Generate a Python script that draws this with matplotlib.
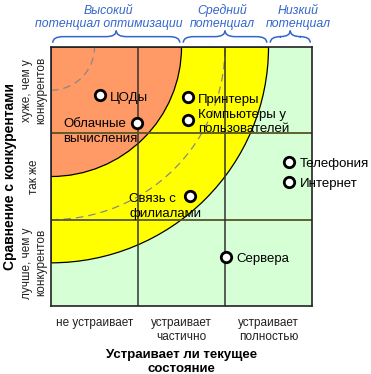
import matplotlib
matplotlib.use('Agg')
import matplotlib.pyplot as plt
from matplotlib.patches import Wedge, Rectangle, Arc, PathPatch
from matplotlib.path import Path

plt.rcParams['font.family'] = ['Liberation Sans', 'DejaVu Sans']

# данные
names = ['ЦОДы', 'Облачные\nвычисления', 'Принтеры', 'Компьютеры у\nпользователей',
         'Связь с\nфилиалами', 'Телефония', 'Интернет', 'Сервера']
xs = [0.56, 0.99, 1.57, 1.57, 1.60, 2.74, 2.74, 2.01]
ys = [2.44, 2.12, 2.42, 2.16, 1.27, 1.67, 1.44, 0.57]

x_ticks = ['не устраивает', 'устраивает\nчастично', 'устраивает\nполностью']
y_ticks = ['лучше, чем у\nконкурентов', 'так же', 'хуже, чем у\nконкурентов']
zones = ['Высокий\nпотенциал оптимизации', 'Средний\nпотенциал', 'Низкий\nпотенциал']
zone_bounds = [0, 1.5, 2.5, 3.0]
radii = [1.5, 2.5]          # границы зон
dashed_radii = [0.5, 2.0]

# где ставить подписи: (x, y) текста, None - справа от точки
label_at = [None, (0.14, 2.02), None, None, (0.90, 1.15), None, None, None]
zone_text_x = [0.66, 1.97, 2.84]

fig = plt.figure(figsize=(3.71, 3.74), dpi=100)
ax = fig.add_axes([0.1375, 0.1818, 0.7035, 0.6925])
ax.set_xlim(0, 3)
ax.set_ylim(0, 3)

# фон - зоны
ax.add_patch(Rectangle((0, 0), 3, 3, facecolor='#d6ffd6', edgecolor='none', zorder=0))
ax.add_patch(Wedge((0, 3), radii[1], 270, 360, facecolor='#ffff00', edgecolor='black', lw=0.9, zorder=1))
ax.add_patch(Wedge((0, 3), radii[0], 270, 360, facecolor='#ff9966', edgecolor='black', lw=0.9, zorder=2))
for r in dashed_radii:
    ax.add_patch(Arc((0, 3), 2 * r, 2 * r, theta1=270, theta2=360, color='#888888',
                     lw=0.9, ls=(0, (6, 4)), zorder=3))

# сетка
for v in [1, 2]:
    ax.axvline(v, color='#333333', lw=1.1, zorder=4)
    ax.axhline(v, color='#555522', lw=1.3, zorder=4)
for s in ax.spines.values():
    s.set_linewidth(1.2)
    s.set_color('#222222')
    s.set_zorder(6)

# точки
ax.plot(xs, ys, 'o', ms=7.5, mfc='white', mec='black', mew=2, zorder=7)
for n, x, y, pos in zip(names, xs, ys, label_at):
    if pos is None:
        ax.text(x + 0.12, y - 0.03, n, ha='left', va='center', fontsize=9.5, zorder=8,
                linespacing=1.2)
    else:
        ax.text(pos[0], pos[1], n, ha='left', va='center', fontsize=9.5, zorder=8,
                linespacing=1.35)

ax.set_xticks([0.5, 1.5, 2.5])
ax.set_xticklabels(x_ticks, fontsize=8.5, color='#222222')
ax.set_yticks([0.5, 1.5, 2.5])
ax.set_yticklabels(y_ticks, fontsize=8.5, color='#222222', rotation=90, va='center',
                   ha='center', multialignment='center')
ax.tick_params(length=0, pad=8)
ax.tick_params(axis='y', pad=12)
ax.set_xlabel('Устраивает ли текущее\nсостояние', fontsize=9.5, fontweight='bold', labelpad=4.5)
ax.set_ylabel('Сравнение с конкурентами', fontsize=10, fontweight='bold', labelpad=3)


# фигурные скобки сверху
def brace(x0, x1, yb=3.05, ym=3.12, yt=3.19, d=0.12):
    xc = (x0 + x1) / 2
    verts = [(x0, yb), (x0, ym), (x0 + d, ym), (xc - d, ym), (xc, ym), (xc, yt),
             (xc, ym), (xc + d, ym), (x1 - d, ym), (x1, ym), (x1, yb)]
    codes = [Path.MOVETO, Path.CURVE3, Path.CURVE3, Path.LINETO, Path.CURVE3, Path.CURVE3,
             Path.CURVE3, Path.CURVE3, Path.LINETO, Path.CURVE3, Path.CURVE3]
    ax.add_patch(PathPatch(Path(verts, codes), fill=False, edgecolor='#3366cc', lw=1.1,
                           clip_on=False))


for i, z in enumerate(zones):
    brace(zone_bounds[i] + 0.02, zone_bounds[i + 1] - 0.02)
    ax.text(zone_text_x[i], 3.2, z, ha='center', va='bottom', fontsize=8.8, style='italic',
            color='#3366cc', linespacing=1.1)

fig.savefig('out.png', dpi=100)
